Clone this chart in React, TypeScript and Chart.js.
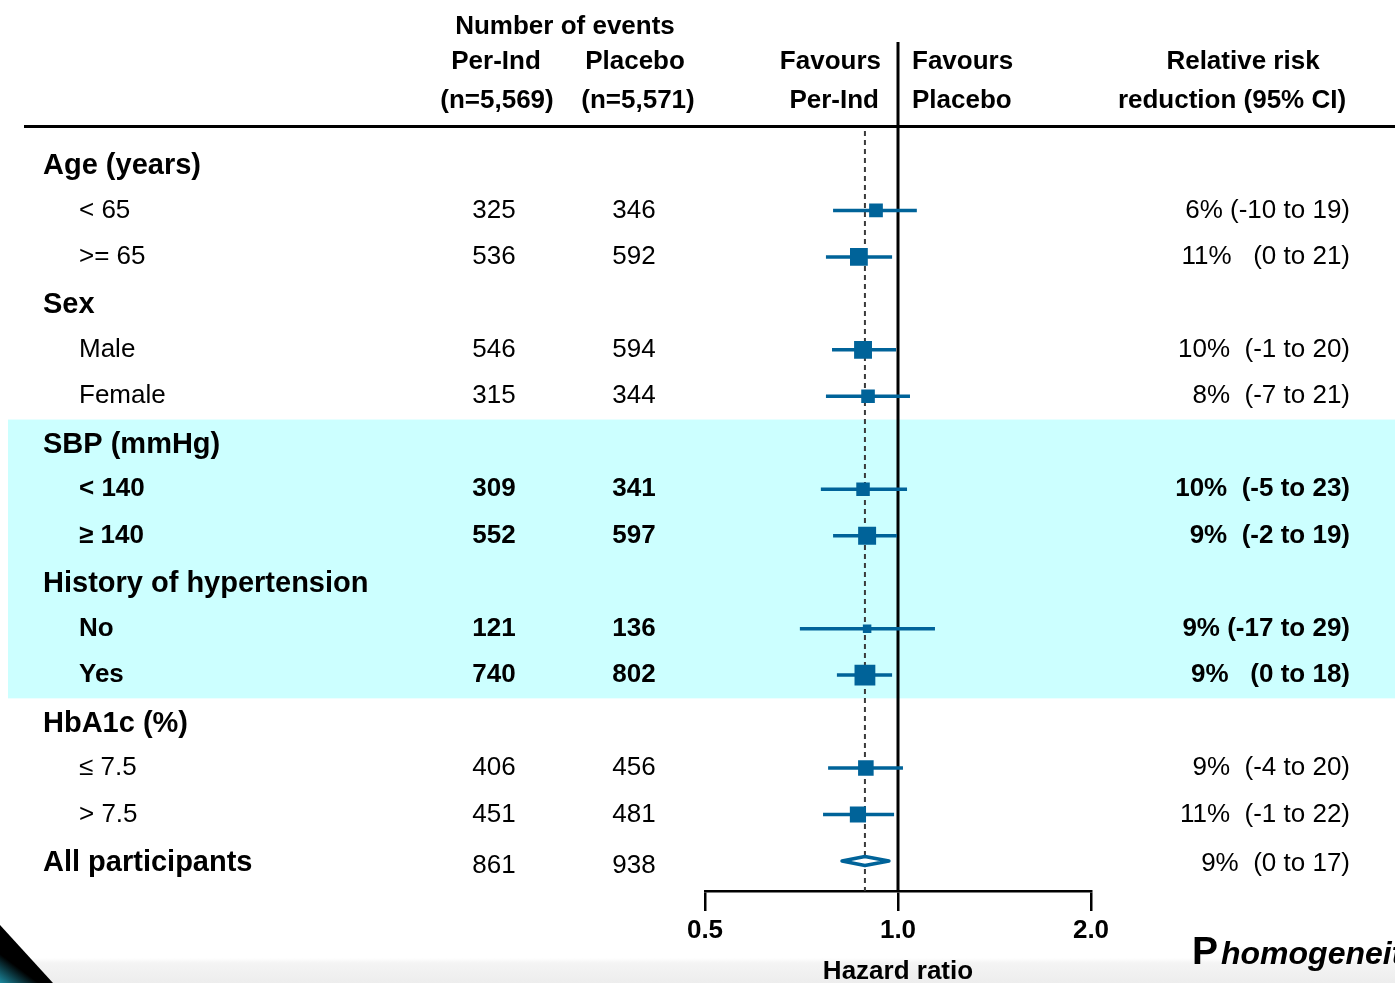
import React, { useEffect, useRef } from "react";
import { Chart, registerables } from "chart.js";

Chart.register(...registerables);

// ---------------- data ----------------
const rowLabels = [
  "Age (years)", "< 65", ">= 65",
  "Sex", "Male", "Female",
  "SBP (mmHg)", "< 140", "≥ 140",
  "History of hypertension", "No", "Yes",
  "HbA1c (%)", "≤ 7.5", "> 7.5",
  "All participants",
];
const rowKinds = [
  "group", "sub", "sub",
  "group", "sub", "sub",
  "group", "sub", "sub",
  "group", "sub", "sub",
  "group", "sub", "sub",
  "total",
];
const highlightedRows = [6, 7, 8, 9, 10, 11];
const perIndEvents = [null, 325, 536, null, 546, 315, null, 309, 552, null, 121, 740, null, 406, 451, 861];
const placeboEvents = [null, 346, 592, null, 594, 344, null, 341, 597, null, 136, 802, null, 456, 481, 938];
const hazardRatio = [null, 0.924, 0.869, null, 0.882, 0.898, null, 0.882, 0.895, null, 0.895, 0.888, null, 0.891, 0.866, 0.888];
const ciLower = [null, 0.792, 0.772, null, 0.789, 0.772, null, 0.758, 0.792, null, 0.703, 0.803, null, 0.778, 0.764, 0.812];
const ciUpper = [null, 1.07, 0.979, null, 0.993, 1.044, null, 1.033, 0.996, null, 1.142, 0.979, null, 1.018, 0.986, 0.975];
const rrrLabels = [
  "", "6% (-10 to 19)", "11%   (0 to 21)",
  "", "10%  (-1 to 20)", "8%  (-7 to 21)",
  "", "10%  (-5 to 23)", "9%  (-2 to 19)",
  "", "9% (-17 to 29)", "9%   (0 to 18)",
  "", "9%  (-4 to 20)", "11%  (-1 to 22)",
  "9%  (0 to 17)",
];
const xTicks = [0.5, 1.0, 2.0];
const xTitle = "Hazard ratio";
const headerEvents = "Number of events";
const armNames = ["Per-Ind", "Placebo"];
const armSizes = ["(n=5,569)", "(n=5,571)"];
const favourLeft = ["Favours", "Per-Ind"];
const favourRight = ["Favours", "Placebo"];
const rrrHeader = ["Relative risk", "reduction (95% CI)"];
const footerP = "P";
const footerRest = "homogeneity";

// ---------------- styling ----------------
const W = 1395;
const H = 983;
const FONT = '"Liberation Sans", Arial, Helvetica, sans-serif';
const BLUE = "#006399";
const SUMMARY = rowKinds.indexOf("total");

const font = (size: number, bold = false, italic = false) =>
  `${italic ? "italic " : ""}${bold ? "bold " : ""}${size}px ${FONT}`;

const forestPlugin = {
  id: "forestPlugin",
  beforeDraw(chart: any) {
    const { ctx } = chart;
    const y = chart.scales.y;
    ctx.save();
    ctx.fillStyle = "#ffffff";
    ctx.fillRect(0, 0, W, H);
    // highlighted band
    const top = y.getPixelForValue(highlightedRows[0] - 0.5);
    const bot = y.getPixelForValue(highlightedRows[highlightedRows.length - 1] + 0.5);
    ctx.fillStyle = "#ccffff";
    ctx.fillRect(8, top, W - 8, bot - top);
    // bottom slide strip
    const g = ctx.createLinearGradient(0, 958, 0, H);
    g.addColorStop(0, "#ffffff");
    g.addColorStop(0.2, "#f4f4f4");
    g.addColorStop(1, "#ededed");
    ctx.fillStyle = g;
    ctx.fillRect(0, 958, W, H - 958);
    // corner decoration
    const cg = ctx.createLinearGradient(0, H, 40, 930);
    cg.addColorStop(0, "#1c8aa0");
    cg.addColorStop(0.35, "#000000");
    cg.addColorStop(1, "#000000");
    ctx.fillStyle = cg;
    ctx.beginPath();
    ctx.moveTo(0, 925);
    ctx.lineTo(53, H);
    ctx.lineTo(0, H);
    ctx.closePath();
    ctx.fill();
    ctx.restore();
  },
  beforeDatasetsDraw(chart: any) {
    const { ctx, chartArea } = chart;
    const x = chart.scales.x;
    ctx.save();
    // header rule
    ctx.strokeStyle = "#000";
    ctx.lineWidth = 3;
    ctx.beginPath();
    ctx.moveTo(24, 126.5);
    ctx.lineTo(W, 126.5);
    ctx.stroke();
    // line of no effect
    const x1 = x.getPixelForValue(1);
    ctx.lineWidth = 3;
    ctx.beginPath();
    ctx.moveTo(x1, 42);
    ctx.lineTo(x1, chartArea.bottom);
    ctx.stroke();
    // dashed overall line
    const xo = x.getPixelForValue(hazardRatio[SUMMARY] as number);
    ctx.strokeStyle = "#3a3a3a";
    ctx.lineWidth = 2;
    ctx.setLineDash([5, 4]);
    ctx.beginPath();
    ctx.moveTo(xo, 131);
    ctx.lineTo(xo, chartArea.bottom);
    ctx.stroke();
    ctx.restore();
  },
  afterDatasetsDraw(chart: any) {
    const { ctx } = chart;
    const x = chart.scales.x;
    const y = chart.scales.y;
    // summary diamond
    const yc = y.getPixelForValue(SUMMARY);
    const xl = x.getPixelForValue(ciLower[SUMMARY] as number);
    const xr = x.getPixelForValue(ciUpper[SUMMARY] as number);
    const xm = x.getPixelForValue(hazardRatio[SUMMARY] as number);
    ctx.save();
    ctx.beginPath();
    ctx.moveTo(xl + 2, yc);
    ctx.lineTo(xm, yc - 4.5);
    ctx.lineTo(xr - 2, yc);
    ctx.lineTo(xm, yc + 4.5);
    ctx.closePath();
    ctx.fillStyle = "#ffffff";
    ctx.fill();
    ctx.strokeStyle = BLUE;
    ctx.lineWidth = 3.5;
    ctx.lineJoin = "round";
    ctx.stroke();
    ctx.restore();
  },
  afterDraw(chart: any) {
    const { ctx } = chart;
    const y = chart.scales.y;
    ctx.save();
    ctx.fillStyle = "#000";
    ctx.textBaseline = "middle";

    // headers
    ctx.font = font(26, true);
    ctx.textAlign = "center";
    ctx.fillText(headerEvents, 565, 27);
    ctx.fillText(armNames[0], 496, 62);
    ctx.fillText(armNames[1], 635, 62);
    ctx.fillText(armSizes[0], 497, 101);
    ctx.fillText(armSizes[1], 638, 101);
    ctx.fillText(rrrHeader[0], 1243, 62);
    ctx.fillText(rrrHeader[1], 1232, 101);
    ctx.textAlign = "right";
    ctx.fillText(favourLeft[0], 881, 62);
    ctx.fillText(favourLeft[1], 879, 101);
    ctx.textAlign = "left";
    ctx.fillText(favourRight[0], 912, 62);
    ctx.fillText(favourRight[1], 912, 101);

    // rows
    rowLabels.forEach((label, i) => {
      const yp = y.getPixelForValue(i);
      const kind = rowKinds[i];
      const hl = highlightedRows.includes(i);
      ctx.textAlign = "left";
      if (kind === "sub") {
        ctx.font = font(26, hl);
        ctx.fillText(label, 79, yp);
      } else {
        ctx.font = font(29, true);
        ctx.fillText(label, 43, yp + 2);
      }
      ctx.font = font(26, kind === "sub" ? hl : false);
      if (perIndEvents[i] != null) {
        const dy = kind === "total" ? 5 : 0;
        ctx.textAlign = "center";
        ctx.fillText(String(perIndEvents[i]), 494, yp + dy);
        ctx.fillText(String(placeboEvents[i]), 634, yp + dy);
      }
      if (rrrLabels[i]) {
        ctx.textAlign = "right";
        ctx.fillText(rrrLabels[i], 1350, yp + (kind === "total" ? 3 : 0));
      }
    });

    // footer
    ctx.textAlign = "left";
    ctx.textBaseline = "alphabetic";
    ctx.font = font(39, true);
    ctx.fillText(footerP, 1192, 964);
    ctx.font = font(32, true, true);
    ctx.fillText(footerRest, 1221, 964);
    ctx.restore();
  },
};

export default function App() {
  const canvasRef = useRef<HTMLCanvasElement | null>(null);

  useEffect(() => {
    const canvas = canvasRef.current;
    if (!canvas) return;

    const rowIdx = rowLabels.map((_, i) => i).filter((i) => hazardRatio[i] != null && rowKinds[i] === "sub");

    const ciDatasets = rowIdx.map((i) => ({
      type: "line" as const,
      data: [
        { x: ciLower[i] as number, y: i },
        { x: ciUpper[i] as number, y: i },
      ],
      borderColor: BLUE,
      borderWidth: 3.5,
      pointRadius: 0,
      showLine: true,
      fill: false,
      order: 2,
    }));

    const squares = {
      type: "scatter" as const,
      data: rowIdx.map((i) => ({ x: hazardRatio[i] as number, y: i })),
      pointStyle: "rect",
      pointRadius: rowIdx.map((i) => {
        const side = 0.53 * Math.sqrt((perIndEvents[i] as number) + (placeboEvents[i] as number));
        return side / Math.SQRT2;
      }),
      pointBackgroundColor: BLUE,
      pointBorderColor: BLUE,
      pointBorderWidth: 0,
      showLine: false,
      order: 1,
    };

    const chart = new Chart(canvas, {
      type: "scatter",
      data: { datasets: [...ciDatasets, squares] as any },
      options: {
        animation: false,
        responsive: false,
        events: [],
        layout: { padding: { left: 705, right: W - 1091, top: 117.5, bottom: 0 } },
        plugins: { legend: { display: false }, tooltip: { enabled: false } },
        scales: {
          x: {
            type: "logarithmic",
            position: "bottom",
            min: xTicks[0],
            max: xTicks[xTicks.length - 1],
            afterBuildTicks: (s: any) => {
              s.ticks = xTicks.map((v) => ({ value: v }));
            },
            afterFit: (s: any) => {
              s.height = H - 891;
            },
            ticks: {
              autoSkip: false,
              maxRotation: 0,
              padding: 4,
              color: "#000",
              font: { family: FONT, size: 26, weight: "bold" },
              callback: (v: any) => Number(v).toFixed(1),
            },
            grid: {
              display: true,
              drawOnChartArea: false,
              drawTicks: true,
              tickLength: 20,
              color: "#000",
              lineWidth: 2.5,
            },
            border: { display: true, color: "#000", width: 2.5 },
            title: {
              display: true,
              text: xTitle,
              color: "#000",
              font: { family: FONT, size: 26, weight: "bold" },
              padding: { top: 0, bottom: -4 },
            },
          },
          y: {
            type: "linear",
            display: false,
            reverse: true,
            min: -1,
            max: 15.6456,
          },
        },
      } as any,
      plugins: [forestPlugin],
    });

    return () => chart.destroy();
  }, []);

  return (
    <div style={{ position: "fixed", left: 0, top: 0, width: W, height: H, overflow: "hidden", background: "#fff" }}>
      <canvas ref={canvasRef} width={W} height={H} style={{ display: "block", width: W, height: H }} />
    </div>
  );
}
